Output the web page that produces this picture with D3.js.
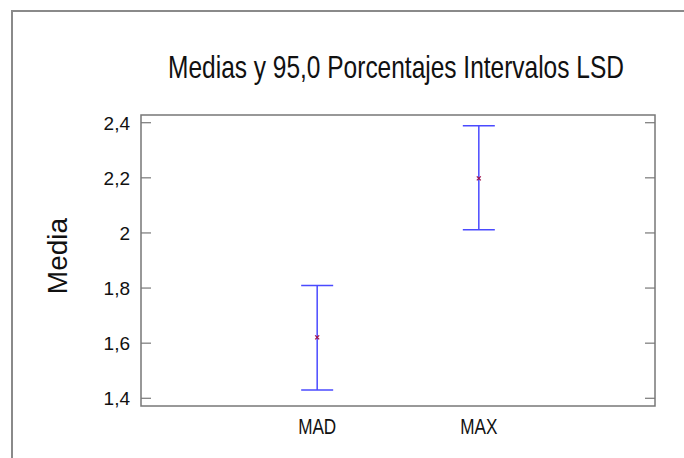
<!DOCTYPE html>
<meta charset="utf-8">
<style>
body { margin: 0; background: #fff; }
text { font-family: "Liberation Sans", Arial, sans-serif; fill: #111; }
.frame { fill: none; stroke: #8a8a8a; stroke-width: 2px; }
.axis-box { fill: none; stroke: #777; stroke-width: 1.5px; }
.tick-mark { stroke: #777; stroke-width: 1.2px; }
.bar { stroke: #4a4aff; stroke-width: 1.5px; }
.mean { stroke: #a0104a; stroke-width: 1.3px; }
</style>
<svg width="684" height="458"></svg>
<script src="https://d3js.org/d3.v7.min.js"></script>
<script>
// data
var categories = ["MAD", "MAX"];
var means = [1.621, 2.198];
var lower = [1.430, 2.012];
var upper = [1.809, 2.389];
var yTicks = [1.4, 1.6, 1.8, 2.0, 2.2, 2.4];

var svg = d3.select("svg");

var plot = { left: 141, top: 115, right: 655, bottom: 406 };

var x = d3.scalePoint()
    .domain(categories)
    .range([plot.left, plot.right])
    .padding(1.09);

var y = d3.scaleLinear()
    .domain([1.372, 2.428])
    .range([plot.bottom, plot.top]);

// outer frame (runs off the right and bottom edges)
svg.append("rect")
    .attr("class", "frame")
    .attr("x", 12).attr("y", 11)
    .attr("width", 700).attr("height", 470);

// title, narrow font look
svg.append("text")
    .attr("transform", "translate(396,78) scale(0.79,1)")
    .attr("text-anchor", "middle")
    .style("font-size", "31px")
    .text("Medias y 95,0 Porcentajes Intervalos LSD");

// plot box
svg.append("rect")
    .attr("class", "axis-box")
    .attr("x", plot.left).attr("y", plot.top)
    .attr("width", plot.right - plot.left)
    .attr("height", plot.bottom - plot.top);

// inward ticks on left and right
var fmt = function(d) { return d3.format("")(+d.toFixed(1)).replace(".", ","); };
var tg = svg.append("g");
tg.selectAll(".tl").data(yTicks).enter().append("line")
    .attr("class", "tick-mark")
    .attr("x1", plot.left).attr("x2", plot.left + 10)
    .attr("y1", function(d) { return y(d); })
    .attr("y2", function(d) { return y(d); });
tg.selectAll(".tr").data(yTicks).enter().append("line")
    .attr("class", "tick-mark")
    .attr("x1", plot.right - 10).attr("x2", plot.right)
    .attr("y1", function(d) { return y(d); })
    .attr("y2", function(d) { return y(d); });
tg.selectAll("text").data(yTicks).enter().append("text")
    .attr("x", 130)
    .attr("y", function(d) { return y(d) + 7; })
    .attr("text-anchor", "end")
    .style("font-size", "19px")
    .text(fmt);

// category labels
svg.selectAll(".cat").data(categories).enter().append("text")
    .attr("class", "cat")
    .attr("transform", function(d) { return "translate(" + x(d) + ",434) scale(0.78,1)"; })
    .attr("text-anchor", "middle")
    .style("font-size", "22px")
    .text(function(d) { return d; });

// y axis label
svg.append("text")
    .attr("transform", "translate(67,256) rotate(-90)")
    .attr("text-anchor", "middle")
    .style("font-size", "28px")
    .text("Media");

// error bars
var rows = categories.map(function(c, i) {
  return { cat: c, mean: means[i], lo: lower[i], hi: upper[i] };
});
var cap = 16;
var g = svg.append("g");
rows.forEach(function(d) {
  var cx = x(d.cat);
  g.append("line").attr("class", "bar")
      .attr("x1", cx).attr("x2", cx)
      .attr("y1", y(d.lo)).attr("y2", y(d.hi));
  g.append("line").attr("class", "bar")
      .attr("x1", cx - cap).attr("x2", cx + cap)
      .attr("y1", y(d.lo)).attr("y2", y(d.lo));
  g.append("line").attr("class", "bar")
      .attr("x1", cx - cap).attr("x2", cx + cap)
      .attr("y1", y(d.hi)).attr("y2", y(d.hi));
  var my = y(d.mean);
  g.append("line").attr("class", "mean")
      .attr("x1", cx - 2).attr("x2", cx + 2)
      .attr("y1", my - 2).attr("y2", my + 2);
  g.append("line").attr("class", "mean")
      .attr("x1", cx - 2).attr("x2", cx + 2)
      .attr("y1", my + 2).attr("y2", my - 2);
});
</script>
